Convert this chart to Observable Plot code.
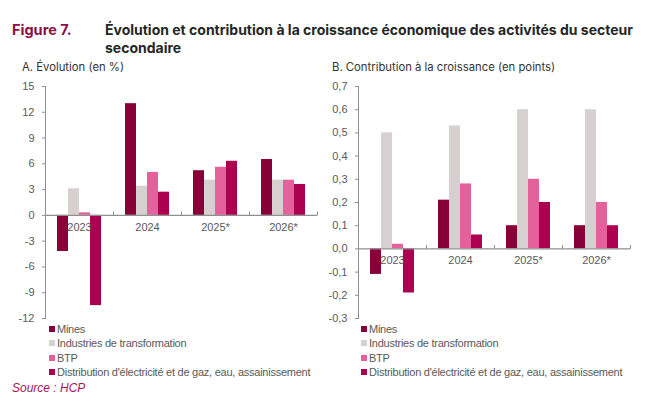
<!DOCTYPE html>
<html>
<head>
<meta charset="utf-8">
<script src="https://cdn.jsdelivr.net/npm/d3@7"></script>
<script src="https://cdn.jsdelivr.net/npm/@observablehq/plot@0.6"></script>
<style>
  body { margin: 0; background: #fff; }
  #fig { position: relative; width: 666px; height: 407px; overflow: hidden; font-family: "Liberation Sans", Arial, sans-serif; }
  .abs { position: absolute; white-space: nowrap; }
  .fignum { left: 12px; top: 21px; font: 700 14.5px Inter, sans-serif; color: #8a1043; line-height: 18px; }
  .title { left: 105px; top: 21px; font: 700 14px Inter, sans-serif; color: #262626; line-height: 18px; }
  .sub { top: 60px; font: 400 11.3px Inter, sans-serif; color: #333; }
  .plot { position: absolute; top: 76px; }
  .legend { font-size: 11px; color: #595959; letter-spacing: -0.25px; }
  .legend div { height: 14.3px; line-height: 14.3px; display: flex; align-items: center; }
  .legend span.sw { display: inline-block; width: 6px; height: 6px; margin-right: 2px; }
  .source { left: 12px; top: 381px; font: italic 12px "Liberation Sans", Arial, sans-serif; color: #a3175a; }
</style>
</head>
<body>
<div id="fig">
  <div class="abs fignum">Figure 7.</div>
  <div class="abs title">Évolution et contribution à la croissance économique des activités du secteur<br>secondaire</div>
  <div class="abs sub" style="left:22px">A. Évolution (en %)</div>
  <div class="abs sub" style="left:332px">B. Contribution à la croissance (en points)</div>
  <div class="plot" id="left" style="left:0px"></div>
  <div class="plot" id="right" style="left:330px"></div>
  <div class="abs legend" id="legLeft" style="left:49px; top:322px"></div>
  <div class="abs legend" id="legRight" style="left:361px; top:322px"></div>
  <div class="abs source">Source : HCP</div>
</div>
<script>
// Years on the horizontal axis (* = forecast)
const years = ["2023", "2024", "2025*", "2026*"];

// Secondary-sector activities
const sectors = [
  "Mines",
  "Industries de transformation",
  "BTP",
  "Distribution d'électricité et de gaz, eau, assainissement"
];
const sectorColors = ["#880038", "#d6d0d1", "#e5619c", "#ad0050"];

// A. Growth by activity (%)
const evoMines        = [-4.2, 13.0, 5.2, 6.5];
const evoIndustries   = [3.1, 3.4, 4.1, 4.1];
const evoBTP          = [0.3, 5.0, 5.6, 4.1];
const evoDistribution = [-10.5, 2.7, 6.3, 3.6];

// B. Contribution to growth (points)
const ctbMines        = [-0.11, 0.21, 0.10, 0.10];
const ctbIndustries   = [0.50, 0.53, 0.60, 0.60];
const ctbBTP          = [0.02, 0.28, 0.30, 0.20];
const ctbDistribution = [-0.19, 0.06, 0.20, 0.10];

// Axis ticks
const evoTicks = [-12, -9, -6, -3, 0, 3, 6, 9, 12, 15];
const ctbTicks = [-0.3, -0.2, -0.1, 0, 0.1, 0.2, 0.3, 0.4, 0.5, 0.6, 0.7];

function toRows(seriesList) {
  return years.flatMap((year, i) =>
    sectors.map((sector, j) => ({year, sector, value: seriesList[j][i]}))
  );
}

// Short upward tick drawn at each category boundary on the zero line
const boundaryTick = {
  draw(context, size) {
    context.moveTo(0, 0);
    context.lineTo(0, -4);
  }
};

const axisGrey = "#8f8f8f";
const labelGrey = "#595959";

function panel({rows, ticks, domain, format, width, marginLeft, marginRight}) {
  return Plot.plot({
    width,
    height: 250,
    marginTop: 10,
    marginBottom: 8,
    marginLeft,
    marginRight,
    style: {fontFamily: "'Liberation Sans', Arial, sans-serif", fontSize: "11px", color: labelGrey, overflow: "visible", background: "transparent"},
    fx: {domain: years, padding: 0, axis: null},
    x: {domain: sectors, paddingInner: 0, paddingOuter: 0.94, axis: null},
    y: {domain, axis: null},
    color: {domain: sectors, range: sectorColors},
    marks: [
      Plot.barY(rows, {fx: "year", x: "sector", y: "value", fill: "sector"}),
      Plot.ruleY([0], {stroke: axisGrey, strokeWidth: 1.3}),
      Plot.dot(years, {fx: d => d, y: () => 0, frameAnchor: "right", symbol: boundaryTick, r: 3, stroke: axisGrey, strokeWidth: 1}),
      Plot.text(years, {fx: d => d, y: () => 0, frameAnchor: "middle", dy: 12, text: d => d, fill: labelGrey}),
      Plot.frame({anchor: "left", facetAnchor: "left", stroke: axisGrey}),
      Plot.axisY({ticks, tickFormat: format, tickSize: 3, tickPadding: 8, stroke: axisGrey, fill: labelGrey, label: null})
    ]
  });
}

document.getElementById("left").append(panel({
  rows: toRows([evoMines, evoIndustries, evoBTP, evoDistribution]),
  ticks: evoTicks,
  domain: [-12, 15],
  format: d => String(d),
  width: 330,
  marginLeft: 43,
  marginRight: 12
}));

document.getElementById("right").append(panel({
  rows: toRows([ctbMines, ctbIndustries, ctbBTP, ctbDistribution]),
  ticks: ctbTicks,
  domain: [-0.3, 0.7],
  format: d => (Math.abs(d) < 1e-9 ? 0 : d).toFixed(1).replace(".", ","),
  width: 336,
  marginLeft: 28,
  marginRight: 36
}));

// Legends
for (const id of ["legLeft", "legRight"]) {
  const box = document.getElementById(id);
  sectors.forEach((s, i) => {
    const row = document.createElement("div");
    const sw = document.createElement("span");
    sw.className = "sw";
    sw.style.background = sectorColors[i];
    row.append(sw, document.createTextNode(s));
    box.append(row);
  });
}
</script>
</body>
</html>
